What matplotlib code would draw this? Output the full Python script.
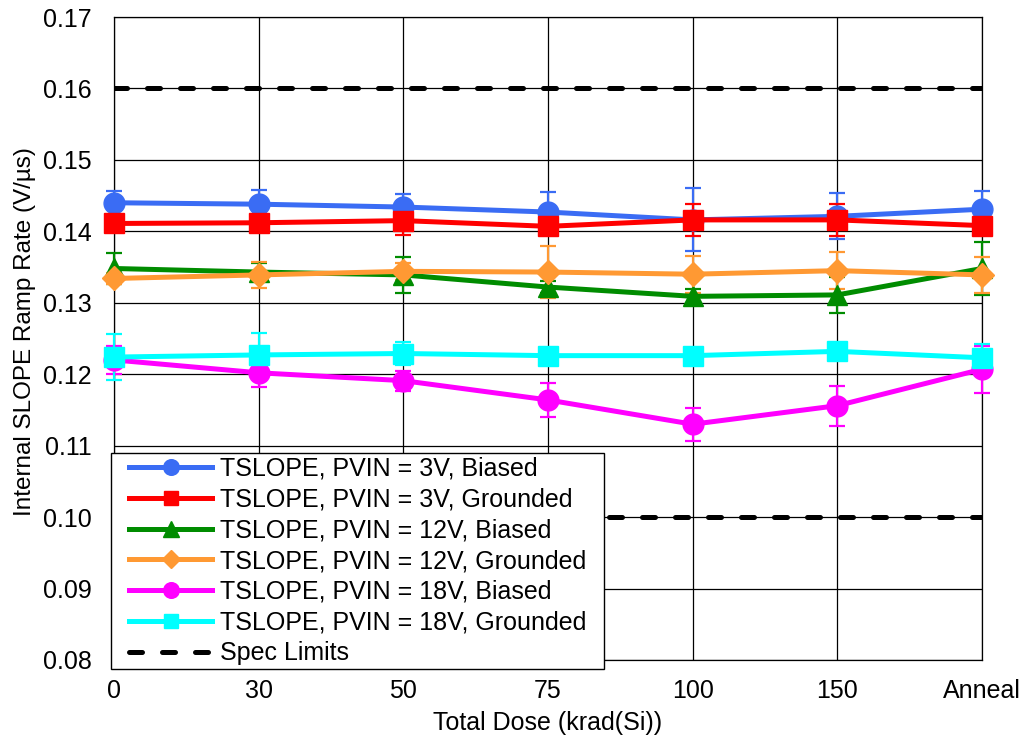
import matplotlib
matplotlib.use("Agg")
import matplotlib.pyplot as plt
from matplotlib.legend_handler import HandlerLine2D
import numpy as np

plt.rcParams['font.family'] = ['Liberation Sans', 'DejaVu Sans']

categories = ["0", "30", "50", "75", "100", "150", "Anneal"]

b3_val = [0.1440, 0.1438, 0.1434, 0.1427, 0.1416, 0.1421, 0.1431]
b3_err = [0.0017, 0.0020, 0.0018, 0.0028, 0.0044, 0.0032, 0.0025]
g3_val = [0.1411, 0.1412, 0.1415, 0.1407, 0.1416, 0.1416, 0.1408]
g3_err = [0.0008, 0.0008, 0.0020, 0.0008, 0.0022, 0.0022, 0.0008]
b12_val = [0.1348, 0.1343, 0.1339, 0.1322, 0.1309, 0.1311, 0.1348]
b12_err = [0.0022, 0.0012, 0.0025, 0.0008, 0.0010, 0.0025, 0.0037]
g12_val = [0.1334, 0.1339, 0.1344, 0.1343, 0.1340, 0.1345, 0.1339]
g12_err = [0.0008, 0.0018, 0.0012, 0.0036, 0.0026, 0.0026, 0.0025]
b18_val = [0.1220, 0.1202, 0.1191, 0.1164, 0.1130, 0.1156, 0.1207]
b18_err = [0.0020, 0.0020, 0.0014, 0.0024, 0.0023, 0.0028, 0.0033]
g18_val = [0.1224, 0.1227, 0.1229, 0.1226, 0.1226, 0.1232, 0.1223]
g18_err = [0.0032, 0.0031, 0.0016, 0.0009, 0.0008, 0.0008, 0.0020]
spec_limits = [0.16, 0.10]

series = [
    ("TSLOPE, PVIN = 3V, Biased", b3_val, b3_err, "#3a6cf4", "o", 15),
    ("TSLOPE, PVIN = 3V, Grounded", g3_val, g3_err, "#ff0000", "s", 14),
    ("TSLOPE, PVIN = 12V, Biased", b12_val, b12_err, "#008c00", "^", 15),
    ("TSLOPE, PVIN = 12V, Grounded", g12_val, g12_err, "#ff9933", "D", 12),
    ("TSLOPE, PVIN = 18V, Biased", b18_val, b18_err, "#ff00ff", "o", 15),
    ("TSLOPE, PVIN = 18V, Grounded", g18_val, g18_err, "#00ffff", "s", 14),
]

fig = plt.figure(figsize=(10.26, 7.44), dpi=100)
ax = fig.add_axes([114/1026, 1-660/744, (982-114)/1026, (660-17)/744])
x = np.arange(len(categories))

handles = []
for label, vals, errs, color, marker, ms in series:
    ax.errorbar(x, vals, yerr=errs, color=color, lw=0, elinewidth=1.6,
                capsize=6, capthick=1.6, zorder=3, clip_on=False)
    h, = ax.plot(x, vals, color=color, lw=3.6, marker=marker, ms=ms,
                 label=label, zorder=4, clip_on=False)
    handles.append(h)

for s in spec_limits:
    hs, = ax.plot([x[0], x[-1]], [s, s], color="black", lw=3.6,
                  ls=(0, (2.6, 4.0)), dash_capstyle="round",
                  label="Spec Limits", zorder=2)
handles.append(hs)

yt = np.arange(0.08, 0.1701, 0.01)
ax.set_xlim(0, len(categories) - 1)
ax.set_ylim(0.08, 0.17)
ax.set_yticks(yt)
ax.set_yticklabels([f"{v:.2f}" for v in yt])
ax.set_xticks(x)
ax.set_xticklabels(categories)
ax.tick_params(axis="both", length=0, labelsize=18)
ax.tick_params(axis="y", pad=16)
ax.tick_params(axis="x", pad=14)
ax.grid(True, color="black", lw=0.9)
ax.set_axisbelow(True)
for sp in ax.spines.values():
    sp.set_color("black")
    sp.set_linewidth(0.9)

ax.set_xlabel("Total Dose (krad(Si))", fontsize=18)
ax.set_ylabel("Internal SLOPE Ramp Rate (V/µs)", fontsize=17.5)
ax.xaxis.set_label_coords(0.5, (660-711)/643)
ax.yaxis.set_label_coords((36-114)/868, (660-332)/643)

hmap = {h: HandlerLine2D(xpad=0.56) for h in handles}
leg = ax.legend(handles=handles, loc="lower left",
                bbox_to_anchor=((111-114)/868, (660-669)/643,
                                (604-111)/868, (669-454)/643),
                mode="expand", handler_map=hmap,
                fontsize=18, frameon=True, fancybox=False, edgecolor="black",
                framealpha=1, handlelength=3.9, handletextpad=0.32,
                borderpad=0.15, labelspacing=0.27, markerscale=0.75,
                borderaxespad=0)
leg.get_frame().set_linewidth(1.0)
leg.set_zorder(10)

fig.savefig("out.png", dpi=100)
